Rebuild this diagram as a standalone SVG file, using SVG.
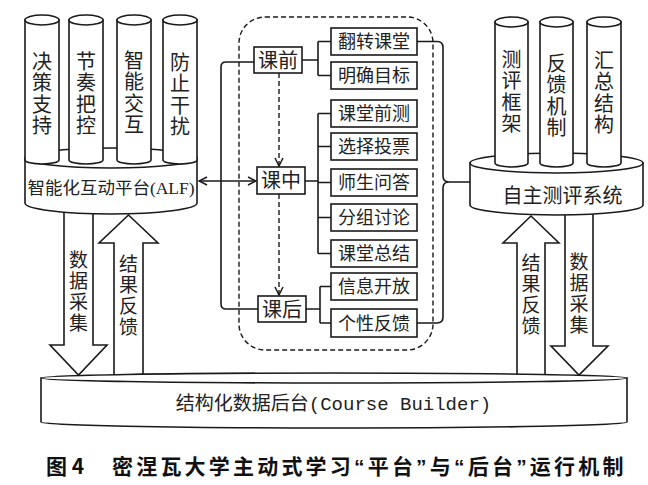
<svg xmlns="http://www.w3.org/2000/svg" width="648" height="485" viewBox="0 0 648 485">
<defs>
<style>
.s{fill:#fff;stroke:#1a1a1a;stroke-width:1.6}
.ln{fill:none;stroke:#1a1a1a;stroke-width:1.6}
.dash{fill:none;stroke:#1a1a1a;stroke-width:1.4;stroke-dasharray:5 3}
.t{font-family:"Noto Sans CJK SC","Noto Sans",sans-serif;fill:#222;text-anchor:middle}
.v{font-family:"Noto Sans CJK SC","Noto Sans",sans-serif;fill:#222;text-anchor:start;writing-mode:vertical-rl}
.cy{font-size:20px;letter-spacing:1.5px}
.ar{font-size:19px;letter-spacing:2px}
.bx{font-size:18px}
.ph{font-size:20px}
.lat{font-family:"Liberation Serif",serif}
.mono{font-family:"Liberation Mono",monospace}
.cap{font-family:"Noto Sans CJK SC",sans-serif;font-size:21px;font-weight:bold;fill:#111}
.q{font-family:"Liberation Sans",sans-serif}
</style>
<marker id="chev" viewBox="0 0 10 10" refX="9" refY="5" markerWidth="10" markerHeight="10" orient="auto-start-reverse" markerUnits="userSpaceOnUse">
<path d="M1,1 L9,5 L1,9" fill="none" stroke="#1a1a1a" stroke-width="1.5"/>
</marker>
</defs>
<rect width="648" height="485" fill="#fff"/>

<!-- big arrows -->
<g id="arrows-big">
<polygon class="s" points="64,205 93,205 93,345 107,345 78.5,375 50,345 64,345"/>
<text class="v ar" x="78.5" y="250.5">数据采集</text>
<polygon class="s" points="114,380 114,243 99,243 128.5,215 158,243 143,243 143,380"/>
<text class="v ar" x="128.5" y="254">结果反馈</text>
<polygon class="s" points="517,380 517,243 503,243 531,216 559,243 545,243 545,380"/>
<text class="v ar" x="531" y="253.5">结果反馈</text>
<polygon class="s" points="565,208 593,208 593,346 608,346 579,375 551,346 565,346"/>
<text class="v ar" x="579" y="252.5">数据采集</text>
</g>

<!-- ALF platform -->
<g id="alf">
<path class="s" d="M25,158 V203 A86,11 0 0 0 197,203 V158 Z"/>
<ellipse class="s" cx="111" cy="158" rx="86" ry="10"/>
<path class="s" d="M25,20 V160 A17,4 0 0 0 59,160 V20 Z"/><ellipse class="s" cx="42" cy="20" rx="17" ry="5"/>
<path class="s" d="M69,20 V160 A17,4 0 0 0 103,160 V20 Z"/><ellipse class="s" cx="86" cy="20" rx="17" ry="5"/>
<path class="s" d="M117,20 V160 A17,4 0 0 0 151,160 V20 Z"/><ellipse class="s" cx="134" cy="20" rx="17" ry="5"/>
<path class="s" d="M163,20 V160 A17,4 0 0 0 197,160 V20 Z"/><ellipse class="s" cx="180" cy="20" rx="17" ry="5"/>
<text class="v cy" x="42" y="51">决策支持</text>
<text class="v cy" x="86" y="51">节奏把控</text>
<text class="v cy" x="134" y="50">智能交互</text>
<text class="v cy" x="180" y="52">防止干扰</text>
<text class="t" x="111" y="193.5" style="font-size:17.5px">智能化互动平台<tspan class="lat">(ALF)</tspan></text>
</g>

<!-- self-evaluation system -->
<g id="eval">
<path class="s" d="M470,163 V205 A86.5,10 0 0 0 643,205 V163 Z"/>
<ellipse class="s" cx="556.5" cy="163" rx="86.5" ry="10"/>
<path class="s" d="M495,22 V163 A16.5,4 0 0 0 528,163 V22 Z"/><ellipse class="s" cx="511.5" cy="22" rx="16.5" ry="5"/>
<path class="s" d="M540,22 V163 A16.5,4 0 0 0 573,163 V22 Z"/><ellipse class="s" cx="556.5" cy="22" rx="16.5" ry="5"/>
<path class="s" d="M587,22 V163 A17,4 0 0 0 621,163 V22 Z"/><ellipse class="s" cx="604" cy="22" rx="17" ry="5"/>
<text class="v cy" x="511.5" y="49">测评框架</text>
<text class="v cy" x="556.5" y="53">反馈机制</text>
<text class="v cy" x="604" y="50">汇总结构</text>
<text class="t" x="562.5" y="202.5" style="font-size:20px">自主测评系统</text>
</g>

<!-- backend -->
<g id="backend">
<path class="s" d="M41,378 V422 A293,6 0 0 0 627,422 V378 Z"/>
<ellipse class="s" cx="334" cy="378" rx="293" ry="5"/>
<text class="t" x="333.5" y="410" style="font-size:19px">结构化数据后台<tspan class="mono">(Course Builder)</tspan></text>
</g>

<!-- dashed container -->
<rect id="container" class="dash" x="239" y="17" width="194" height="333" rx="26" ry="26"/>

<!-- phase boxes -->
<g id="pre"><rect class="s" x="254" y="47" width="48" height="26"/><text class="t ph" x="278" y="67.6">课前</text></g>
<g id="mid"><rect class="s" x="257" y="167" width="48" height="27"/><text class="t ph" x="281" y="188.1">课中</text></g>
<g id="post"><rect class="s" x="258" y="296" width="48" height="26"/><text class="t ph" x="282" y="316.6">课后</text></g>

<!-- activity boxes -->
<g id="b1"><rect class="s" x="331" y="28" width="86" height="27"/><text class="t bx" x="374" y="48.3">翻转课堂</text></g>
<g id="b2"><rect class="s" x="331" y="62" width="86" height="27"/><text class="t bx" x="374" y="82.3">明确目标</text></g>
<g id="b3"><rect class="s" x="331" y="100" width="86" height="27"/><text class="t bx" x="374" y="120.3">课堂前测</text></g>
<g id="b4"><rect class="s" x="331" y="133" width="86" height="27"/><text class="t bx" x="374" y="153.3">选择投票</text></g>
<g id="b5"><rect class="s" x="331" y="169" width="86" height="27"/><text class="t bx" x="374" y="189.3">师生问答</text></g>
<g id="b6"><rect class="s" x="331" y="204" width="86" height="27"/><text class="t bx" x="374" y="224.3">分组讨论</text></g>
<g id="b7"><rect class="s" x="331" y="240" width="86" height="27"/><text class="t bx" x="374" y="260.3">课堂总结</text></g>
<g id="b8"><rect class="s" x="331" y="273" width="86" height="27"/><text class="t bx" x="374" y="293.3">信息开放</text></g>
<g id="b9"><rect class="s" x="331" y="309" width="86" height="28"/><text class="t bx" x="374" y="329.8">个性反馈</text></g>

<!-- connectors -->
<g id="connectors">
<path class="ln" d="M302,60 H318 M318,41.5 V75.5 M318,41.5 H331 M318,75.5 H331"/>
<path class="ln" d="M305,181 H318 M318,113.5 V253.5 M318,113.5 H331 M318,146.5 H331 M318,182.5 H331 M318,217.5 H331 M318,253.5 H331"/>
<path class="ln" d="M306,309 H320 M320,286.5 V323 M320,286.5 H331 M320,323 H331"/>
<path class="ln" d="M254,62 H226 Q221,62 221,67 V304 Q221,309 226,309 H258"/>
<line class="ln" x1="199" y1="181" x2="256" y2="181" marker-start="url(#chev)" marker-end="url(#chev)"/>
<line class="dash" x1="279" y1="73" x2="279" y2="166" marker-end="url(#chev)"/>
<line class="dash" x1="279" y1="194" x2="279" y2="295" marker-end="url(#chev)"/>
<path class="ln" d="M417,41.5 H437 Q443,41.5 443,47.5 V176 Q443,182 449,182 Q443,182 443,188 V317 Q443,323 437,323 H417 M449,182 H470"/>
</g>

<text class="cap" x="46" y="474">图 4</text>
<text class="cap" x="112" y="474" style="letter-spacing:3.2px">密涅瓦大学主动式学习<tspan class="q">“</tspan>平台<tspan class="q">”</tspan>与<tspan class="q">“</tspan>后台<tspan class="q">”</tspan>运行机制</text>
</svg>
